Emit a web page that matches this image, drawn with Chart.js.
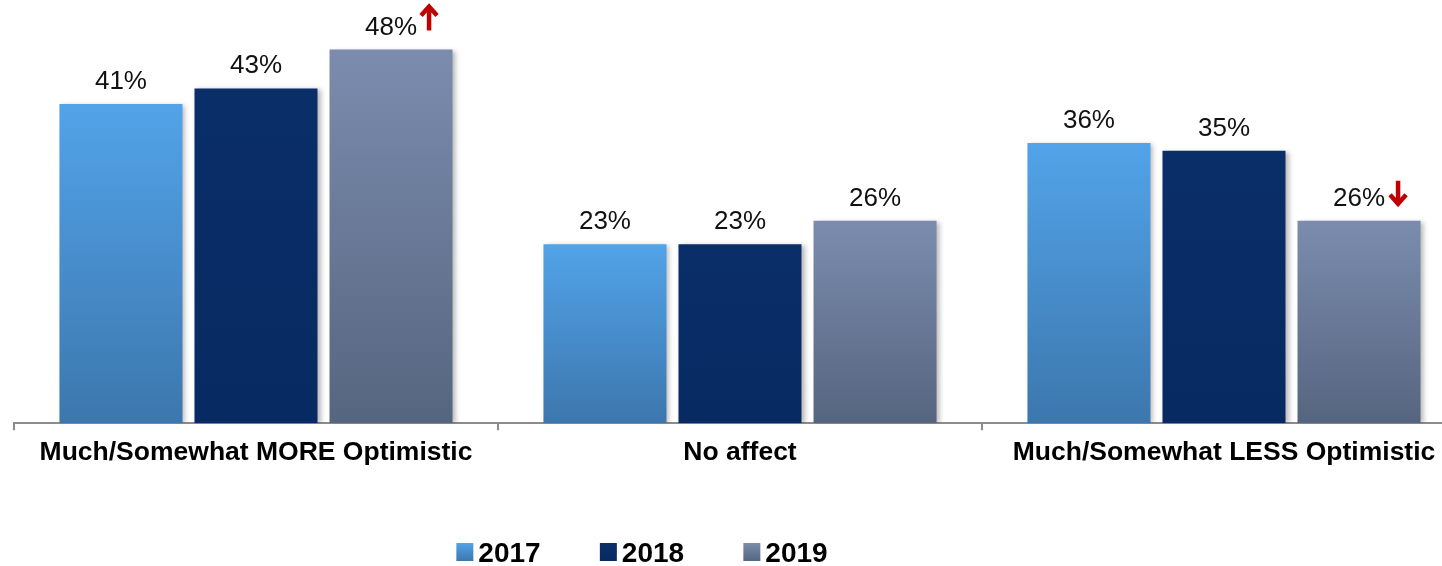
<!DOCTYPE html>
<html>
<head>
<meta charset="utf-8">
<script src="https://cdn.jsdelivr.net/npm/chart.js@4.4.1/dist/chart.umd.min.js"></script>
<style>
  html, body { margin: 0; padding: 0; background: #fff; overflow: hidden; }
  #wrap { width: 1470px; height: 566px; }
</style>
</head>
<body>
<div id="wrap"><canvas id="optChart" width="1470" height="566"></canvas></div>
<script>
const categories = ['Much/Somewhat MORE Optimistic', 'No affect', 'Much/Somewhat LESS Optimistic'];
const years = ['2017', '2018', '2019'];
const values2017 = [41, 23, 36];
const values2018 = [43, 23, 35];
const values2019 = [48, 26, 26];
// significant change arrows for 2019 (1 = up, -1 = down, 0 = none)
const change2019 = [1, 0, -1];

// top / bottom colours of each series' gradient
const topColors = ['#52a3e9', '#0a2e68', '#7b8cae'];
const bottomColors = ['#3c77ad', '#072a62', '#56657f'];

function barGradient(ctx) {
    const chart = ctx.chart;
    const area = chart.chartArea;
    const i = ctx.datasetIndex;
    if (!area || ctx.parsed == null) return topColors[i];
    const y = chart.scales.y;
    const top = y.getPixelForValue(ctx.parsed.y);
    const bottom = y.getPixelForValue(0);
    const g = chart.ctx.createLinearGradient(0, top, 0, bottom);
    g.addColorStop(0, topColors[i]);
    g.addColorStop(1, bottomColors[i]);
    return g;
}

// soft drop shadow under the bars
const barShadow = {
    id: 'barShadow',
    beforeDatasetsDraw(chart) {
        const c = chart.ctx;
        c.save();
        c.shadowColor = 'rgba(0,0,0,0.28)';
        c.shadowBlur = 5;
        c.shadowOffsetX = 3;
        c.shadowOffsetY = 1;
    },
    afterDatasetsDraw(chart) {
        chart.ctx.restore();
    }
};

// red arrow: thick shaft with a chevron head
function drawArrow(c, x, yTop, yBottom, dir) {
    const w = 18, headH = 9;
    const cx = x + w / 2;
    c.save();
    c.strokeStyle = '#c00000';
    c.lineWidth = 4.5;
    c.lineJoin = 'miter';
    c.lineCap = 'butt';
    c.beginPath();
    if (dir > 0) {
        c.moveTo(cx, yBottom);
        c.lineTo(cx, yTop + 3);
        c.moveTo(x + 1, yTop + headH + 2);
        c.lineTo(cx, yTop + 2);
        c.lineTo(x + w - 1, yTop + headH + 2);
    } else {
        c.moveTo(cx, yTop);
        c.lineTo(cx, yBottom - 3);
        c.moveTo(x + 1, yBottom - headH - 2);
        c.lineTo(cx, yBottom - 2);
        c.lineTo(x + w - 1, yBottom - headH - 2);
    }
    c.stroke();
    c.restore();
}

// percentage labels above each bar, plus the change arrows
const valueLabels = {
    id: 'valueLabels',
    afterDatasetsDraw(chart) {
        const c = chart.ctx;
        c.save();
        c.font = '26px "Liberation Sans", Arial, sans-serif';
        c.textAlign = 'center';
        c.textBaseline = 'alphabetic';
        chart.data.datasets.forEach((ds, di) => {
            const meta = chart.getDatasetMeta(di);
            meta.data.forEach((bar, i) => {
                const txt = ds.data[i] + '%';
                const base = bar.y - 15;
                c.fillStyle = '#111';
                c.fillText(txt, bar.x, base);
                if (di === 2 && change2019[i] !== 0) {
                    const end = bar.x + c.measureText(txt).width / 2;
                    if (change2019[i] > 0) drawArrow(c, end + 3, base - 30, base - 4, 1);
                    else drawArrow(c, end + 4, base - 25, base, -1);
                }
            });
        });
        c.restore();
    }
};

// legend row under the axis
const yearLegend = {
    id: 'yearLegend',
    afterDraw(chart) {
        const c = chart.ctx;
        const box = 17, gap = 5, step = 143.5, centerX = 642, baseY = 562;
        c.save();
        c.font = 'bold 28px "Liberation Sans", Arial, sans-serif';
        c.textBaseline = 'alphabetic';
        const lastW = box + gap + c.measureText(years[years.length - 1]).width;
        const total = step * (years.length - 1) + lastW;
        let x = centerX - total / 2;
        years.forEach((yr, i) => {
            const g = c.createLinearGradient(0, baseY - 19, 0, baseY - 1);
            g.addColorStop(0, topColors[i]);
            g.addColorStop(1, bottomColors[i]);
            c.fillStyle = g;
            c.fillRect(x, baseY - 19, box, box + 1);
            c.fillStyle = '#000';
            c.fillText(yr, x + box + gap, baseY);
            x += step;
        });
        c.restore();
    }
};

const seriesValues = [values2017, values2018, values2019];

new Chart(document.getElementById('optChart'), {
    type: 'bar',
    data: {
        labels: categories,
        datasets: years.map((yr, i) => ({
            label: yr,
            data: seriesValues[i],
            backgroundColor: barGradient,
            borderWidth: 0,
            categoryPercentage: 0.837,
            barPercentage: 0.911
        }))
    },
    options: {
        responsive: false,
        animation: false,
        layout: { padding: { top: 34, left: 14, right: 4, bottom: 90 } },
        plugins: {
            legend: { display: false },
            tooltip: { enabled: false }
        },
        scales: {
            y: {
                display: false,
                min: 0,
                max: 50
            },
            x: {
                offset: true,
                border: { display: true, color: '#8c8c8c', width: 2 },
                grid: {
                    offset: true,
                    drawOnChartArea: false,
                    drawTicks: true,
                    tickLength: 7,
                    color: '#8c8c8c',
                    lineWidth: 2
                },
                ticks: {
                    color: '#000',
                    padding: 7,
                    maxRotation: 0,
                    font: { family: '"Liberation Sans", Arial, sans-serif', size: 26.5, weight: 'bold' }
                }
            }
        }
    },
    plugins: [barShadow, valueLabels, yearLegend]
});
</script>
</body>
</html>
